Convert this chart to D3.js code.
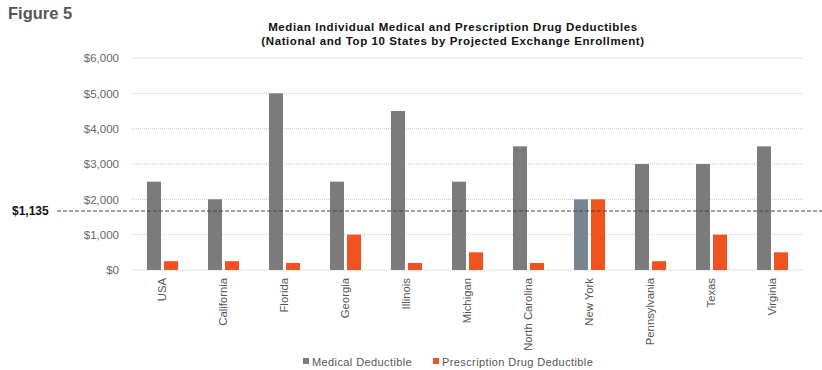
<!DOCTYPE html>
<html>
<head>
<meta charset="utf-8">
<script src="https://cdn.jsdelivr.net/npm/d3@7"></script>
<style>
  body { margin: 0; background: #fff; }
  svg { font-family: Arial, "Liberation Sans", sans-serif; }
</style>
</head>
<body>
<svg id="chart" width="822" height="370"></svg>
<script>
const states = ["USA", "California", "Florida", "Georgia", "Illinois", "Michigan",
  "North Carolina", "New York", "Pennsylvania", "Texas", "Virginia"];
const medical = [2500, 2000, 5000, 2500, 4500, 2500, 3500, 2000, 3000, 3000, 3500];
const drug = [250, 250, 200, 1000, 200, 500, 200, 2000, 250, 1000, 500];
const yTicks = [0, 1000, 2000, 3000, 4000, 5000, 6000];
const seriesNames = ["Medical Deductible", "Prescription Drug Deductible"];
// reference line: labelled $1,135 but drawn at about 1,670 in the original
const refLabel = "$1,135";
const refLineAt = 1670;

const svg = d3.select("#chart");
const margin = { top: 58, right: 19, bottom: 100, left: 132 };
const width = 822 - margin.left - margin.right;
const height = 370 - margin.top - margin.bottom;

const colors = ["#7b7b7b", "#f0531f"];

svg.append("text")
  .attr("x", 8).attr("y", 19)
  .attr("font-size", 16.5).attr("font-weight", "bold")
  .attr("fill", "#555")
  .text("Figure 5");

// title
const titleLines = ["Median Individual Medical and Prescription Drug Deductibles",
  "(National and Top 10 States by Projected Exchange Enrollment)"];
titleLines.forEach((t, i) => {
  svg.append("text")
    .attr("x", 453).attr("y", 31 + i * 14)
    .attr("text-anchor", "middle")
    .attr("font-size", 11.5).attr("font-weight", "bold").attr("fill", "#111")
    .attr("letter-spacing", 0.6)
    .text(t);
});

const chart = svg.append("g")
  .attr("transform", `translate(${margin.left},${margin.top})`);

const x = d3.scaleBand().domain(states).range([0, width]);
const y = d3.scaleLinear().domain([0, 6000]).range([height, 0]);

// gridlines
chart.append("g")
  .selectAll("line")
  .data(yTicks)
  .enter()
  .append("line")
  .attr("x1", 0).attr("x2", width)
  .attr("y1", d => y(d)).attr("y2", d => y(d))
  .attr("stroke", "#c8c8c8")
  .attr("stroke-dasharray", "1,1");

// y axis
const yAxis = chart.append("g")
  .attr("transform", "translate(-10,0)")
  .call(d3.axisLeft(y).tickValues(yTicks).tickSize(0).tickFormat(d => "$" + d3.format(",")(d)));
yAxis.select(".domain").remove();
yAxis.selectAll("text")
  .attr("font-size", 11.5).attr("fill", "#666")
  .attr("font-family", "Arial, 'Liberation Sans', sans-serif");

// x axis
const xAxis = chart.append("g")
  .attr("transform", `translate(0,${height})`)
  .call(d3.axisBottom(x).tickSize(0));
xAxis.select(".domain").remove();
xAxis.selectAll("text")
  .attr("transform", "rotate(-90)")
  .attr("x", -8).attr("y", 0).attr("dy", "0.35em")
  .style("text-anchor", "end")
  .attr("font-size", 11.3).attr("fill", "#555")
  .attr("font-family", "Arial, 'Liberation Sans', sans-serif");

// bars
const barW = 14;
const gap = 3;
chart.selectAll(".med")
  .data(states)
  .enter()
  .append("rect")
  .attr("class", "med")
  .attr("x", d => x(d) + x.bandwidth() / 2 - gap / 2 - barW)
  .attr("y", (d, i) => y(medical[i]))
  .attr("width", barW)
  .attr("height", (d, i) => height - y(medical[i]))
  .attr("fill", d => d === "New York" ? "#7a8490" : colors[0]);

chart.selectAll(".drug")
  .data(states)
  .enter()
  .append("rect")
  .attr("class", "drug")
  .attr("x", d => x(d) + x.bandwidth() / 2 + gap / 2)
  .attr("y", (d, i) => y(drug[i]))
  .attr("width", barW)
  .attr("height", (d, i) => height - y(drug[i]))
  .attr("fill", colors[1]);

// reference line
svg.append("line")
  .attr("x1", 57).attr("x2", 822)
  .attr("y1", margin.top + y(refLineAt)).attr("y2", margin.top + y(refLineAt))
  .attr("stroke", "#444")
  .attr("stroke-dasharray", "4,2");
svg.append("text")
  .attr("x", 12).attr("y", margin.top + y(refLineAt))
  .attr("dy", "0.35em")
  .attr("font-size", 12).attr("font-weight", "bold").attr("fill", "#111")
  .text(refLabel);

// legend
const legendX = [303, 433];
const legend = svg.append("g").attr("transform", "translate(0,362)");
seriesNames.forEach((name, i) => {
  legend.append("rect")
    .attr("x", legendX[i]).attr("y", -4)
    .attr("width", 6).attr("height", 6)
    .attr("fill", colors[i]);
  legend.append("text")
    .attr("x", legendX[i] + 9).attr("y", 0)
    .attr("dy", "0.35em")
    .attr("font-size", 11).attr("fill", "#555")
    .attr("letter-spacing", 0.4)
    .text(name);
});
</script>
</body>
</html>
